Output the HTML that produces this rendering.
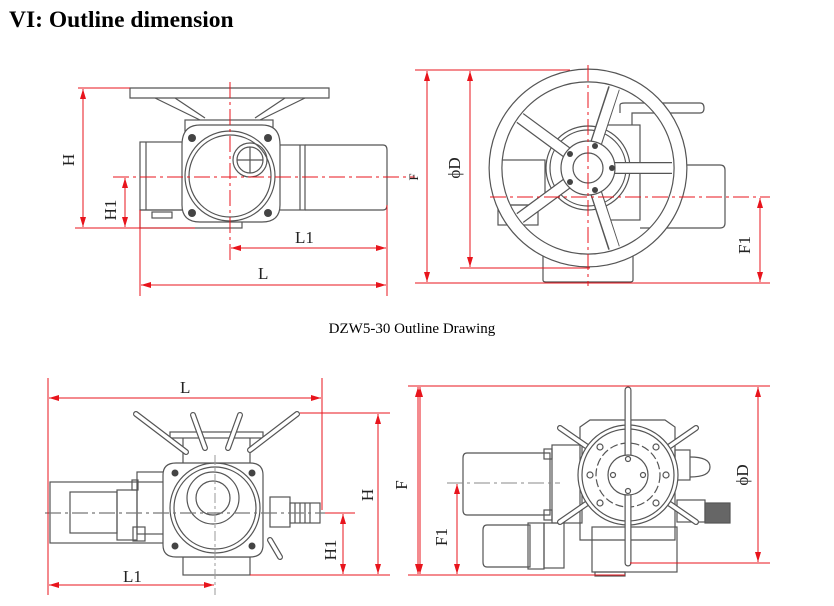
<!DOCTYPE html>
<html><head><meta charset="utf-8">
<style>
html,body{margin:0;padding:0;background:#fff;}
body{width:834px;height:606px;overflow:hidden;position:relative;}
svg{position:absolute;left:0;top:0;}
</style></head>
<body>
<svg width="834" height="606" viewBox="0 0 834 606" xmlns="http://www.w3.org/2000/svg">
<defs>
<marker id="a" viewBox="0 0 10 6" refX="10" refY="3" markerWidth="10" markerHeight="6" markerUnits="userSpaceOnUse" orient="auto-start-reverse">
<path d="M0,0 L10,3 L0,6 z" fill="#e8141c"/></marker>
</defs>
<text x="9" y="27" font-family="Liberation Serif, serif" font-weight="bold" font-size="23.5">VI: Outline dimension</text>
<text x="412" y="333" text-anchor="middle" font-family="Liberation Serif, serif" font-size="15">DZW5-30 Outline Drawing</text>

<!-- ========== TOP LEFT ========== -->
<g fill="none" stroke="#555" stroke-width="1.2">
<path d="M130,88 H329 V98 H130 Z" fill="#fff"/>
<path d="M155,98 L200,120 M175,98 L205,118 M305,98 L260,120 M285,98 L255,118"/>
<rect x="185" y="120" width="88" height="90"/>
<rect x="140" y="142" width="45" height="68"/>
<line x1="146" y1="142" x2="146" y2="210"/>
<rect x="273" y="145" width="32" height="65"/>
<line x1="300" y1="145" x2="300" y2="210"/>
<path d="M305,145 H383 Q387,145 387,150 V205 Q387,210 383,210 H305"/>
<rect x="140" y="210" width="102" height="18"/>
<rect x="152" y="212" width="20" height="6"/>
<path d="M182,145 Q182,125 200,125 H262 Q280,125 280,145 V205 Q280,222 262,222 H200 Q182,222 182,205 Z" fill="#fff"/>
<circle cx="230" cy="176" r="45"/>
<circle cx="230" cy="176" r="41"/>
<circle cx="250" cy="160" r="17"/>
<circle cx="250" cy="160" r="13"/>
<line x1="250" y1="147" x2="250" y2="173"/><line x1="237" y1="160" x2="263" y2="160"/>
</g>
<g fill="#444"><circle cx="192" cy="138" r="4"/><circle cx="268" cy="138" r="4"/><circle cx="192" cy="213" r="4"/><circle cx="268" cy="213" r="4"/></g>
<g stroke="#e8141c" stroke-width="1" fill="none">
<line x1="113" y1="177" x2="415" y2="177" stroke-dasharray="16,4,3,4"/>
<line x1="230" y1="82" x2="230" y2="262" stroke-dasharray="16,4,3,4"/>
<line x1="78" y1="88" x2="130" y2="88"/>
<line x1="75" y1="228" x2="195" y2="228"/>
<line x1="83" y1="89" x2="83" y2="227" marker-start="url(#a)" marker-end="url(#a)"/>
<line x1="125" y1="178" x2="125" y2="227" marker-start="url(#a)" marker-end="url(#a)"/>
<line x1="140" y1="210" x2="140" y2="296"/>
<line x1="387" y1="205" x2="387" y2="296"/>
<line x1="231" y1="248" x2="386" y2="248" marker-start="url(#a)" marker-end="url(#a)"/>
<line x1="141" y1="285" x2="386" y2="285" marker-start="url(#a)" marker-end="url(#a)"/>
</g>
<g font-family="Liberation Serif, serif" font-size="17" fill="#222">
<text transform="translate(74,160) rotate(-90)" text-anchor="middle">H</text>
<text transform="translate(116,210) rotate(-90)" text-anchor="middle">H1</text>
<text x="295" y="243">L1</text>
<text x="258" y="279">L</text>
<text transform="translate(418,177) rotate(-90)" text-anchor="middle" font-size="13">F</text>
</g>

<!-- ========== TOP RIGHT ========== -->
<g fill="none" stroke="#555" stroke-width="1.2">
<path d="M620,113 V105 Q620,103 625,103 H700 Q704,103 704,108 Q704,113 700,113 H632 V125"/>
<rect x="600" y="125" width="40" height="95"/>
<path d="M640,165 H720 Q725,165 725,170 V223 Q725,228 720,228 H640"/>
<rect x="500" y="160" width="45" height="45"/>
<rect x="498" y="205" width="40" height="20"/>
<path d="M543,255 V280 Q543,282 546,282 H630 Q633,282 633,280 V255"/>
<circle cx="588" cy="168" r="42"/>
<circle cx="588" cy="168" r="38"/>
</g>
<g stroke-linecap="butt">
<g stroke="#555" stroke-width="12">
<line x1="588" y1="168" x2="614" y2="88"/><line x1="588" y1="168" x2="672" y2="168"/><line x1="588" y1="168" x2="614" y2="248"/><line x1="588" y1="168" x2="520" y2="218"/><line x1="588" y1="168" x2="520" y2="118"/>
</g>
<g stroke="#fff" stroke-width="9.6">
<line x1="588" y1="168" x2="616" y2="83"/><line x1="588" y1="168" x2="677" y2="168"/><line x1="588" y1="168" x2="616" y2="253"/><line x1="588" y1="168" x2="516" y2="221"/><line x1="588" y1="168" x2="516" y2="115"/>
</g>
</g>
<circle cx="588" cy="168" r="92.5" fill="none" stroke="#555" stroke-width="14"/>
<circle cx="588" cy="168" r="92.5" fill="none" stroke="#fff" stroke-width="11.6"/>
<circle cx="588" cy="168" r="27" fill="#fff" stroke="#555" stroke-width="1.2"/>
<circle cx="588" cy="168" r="15" fill="#fff" stroke="#555" stroke-width="1.2"/>
<g fill="#444"><circle cx="595" cy="146" r="3"/><circle cx="612" cy="168" r="3"/><circle cx="595" cy="190" r="3"/><circle cx="570" cy="154" r="3"/><circle cx="570" cy="182" r="3"/></g>
<g stroke="#e8141c" stroke-width="1" fill="none">
<line x1="415" y1="70" x2="570" y2="70"/>
<line x1="415" y1="283" x2="770" y2="283"/>
<line x1="460" y1="268" x2="590" y2="268"/>
<line x1="490" y1="197" x2="770" y2="197" stroke-dasharray="16,4,3,4"/>
<line x1="588" y1="65" x2="588" y2="286" stroke-dasharray="16,4,3,4"/>
<line x1="427" y1="71" x2="427" y2="282" marker-start="url(#a)" marker-end="url(#a)"/>
<line x1="470" y1="71" x2="470" y2="267" marker-start="url(#a)" marker-end="url(#a)"/>
<line x1="760" y1="198" x2="760" y2="282" marker-start="url(#a)" marker-end="url(#a)"/>
</g>
<g font-family="Liberation Serif, serif" font-size="17" fill="#222">
<text transform="translate(460,168) rotate(-90)" text-anchor="middle">ϕD</text>
<text transform="translate(750,245) rotate(-90)" text-anchor="middle">F1</text>
</g>

<!-- ========== BOTTOM LEFT ========== -->
<g fill="none" stroke="#555" stroke-width="1.2">
<rect x="170" y="432" width="93" height="6"/>
<path d="M183,438 V463 M250,438 V463"/>
<rect x="50" y="482" width="117" height="61"/>
<rect x="70" y="492" width="47" height="41"/>
<rect x="117" y="490" width="20" height="50"/>
<rect x="137" y="472" width="30" height="62"/>
<rect x="132" y="480" width="6" height="10"/>
<rect x="133" y="527" width="12" height="14"/>
<rect x="270" y="497" width="20" height="30"/>
<rect x="290" y="503" width="30" height="20"/>
<line x1="295" y1="503" x2="295" y2="523"/><line x1="300" y1="503" x2="300" y2="523"/><line x1="305" y1="503" x2="305" y2="523"/><line x1="310" y1="503" x2="310" y2="523"/>
<rect x="183" y="557" width="67" height="18"/>
<path d="M163,475 Q163,463 176,463 H250 Q263,463 263,475 V545 Q263,557 250,557 H176 Q163,557 163,545 Z" fill="#fff"/>
<circle cx="215" cy="508" r="45"/>
<circle cx="215" cy="508" r="41"/>
<circle cx="213" cy="498" r="26"/>
<circle cx="213" cy="498" r="17"/>
</g>
<g stroke="#555" stroke-width="6" stroke-linecap="round">
<line x1="136" y1="414" x2="186" y2="452"/><line x1="193" y1="415" x2="205" y2="448"/><line x1="240" y1="415" x2="228" y2="448"/><line x1="297" y1="414" x2="250" y2="450"/><line x1="270" y1="540" x2="280" y2="557"/>
</g>
<g stroke="#fff" stroke-width="3.6" stroke-linecap="round">
<line x1="136" y1="414" x2="186" y2="452"/><line x1="193" y1="415" x2="205" y2="448"/><line x1="240" y1="415" x2="228" y2="448"/><line x1="297" y1="414" x2="250" y2="450"/><line x1="270" y1="540" x2="280" y2="557"/>
</g>
<g fill="#444"><circle cx="175" cy="473" r="3.5"/><circle cx="252" cy="473" r="3.5"/><circle cx="175" cy="546" r="3.5"/><circle cx="252" cy="546" r="3.5"/></g>
<line x1="45" y1="513" x2="325" y2="513" stroke="#777" stroke-width="1.2" stroke-dasharray="16,4,3,4"/>
<g stroke="#e8141c" stroke-width="1" fill="none">
<line x1="325" y1="513" x2="355" y2="513"/>
<line x1="215" y1="455" x2="215" y2="595" stroke="#999" stroke-dasharray="10,3,3,3"/>
<line x1="48" y1="378" x2="48" y2="595"/>
<line x1="322" y1="378" x2="322" y2="510"/>
<line x1="300" y1="413" x2="390" y2="413"/>
<line x1="250" y1="575" x2="390" y2="575"/>
<line x1="49" y1="398" x2="321" y2="398" marker-start="url(#a)" marker-end="url(#a)"/>
<line x1="49" y1="585" x2="214" y2="585" marker-start="url(#a)" marker-end="url(#a)"/>
<line x1="378" y1="414" x2="378" y2="574" marker-start="url(#a)" marker-end="url(#a)"/>
<line x1="343" y1="514" x2="343" y2="574" marker-start="url(#a)" marker-end="url(#a)"/>
<line x1="418" y1="387" x2="418" y2="574" marker-start="url(#a)" marker-end="url(#a)"/>
</g>
<g font-family="Liberation Serif, serif" font-size="17" fill="#222">
<text x="180" y="393">L</text>
<text x="123" y="582">L1</text>
<text transform="translate(373,495) rotate(-90)" text-anchor="middle">H</text>
<text transform="translate(336,550) rotate(-90)" text-anchor="middle">H1</text>
<text transform="translate(407,485) rotate(-90)" text-anchor="middle">F</text>
</g>

<!-- ========== BOTTOM RIGHT ========== -->
<g fill="none" stroke="#555" stroke-width="1.2">
<path d="M467,453 H550 V515 H467 Q463,515 463,510 V458 Q463,453 467,453 Z"/>
<rect x="544" y="449" width="8" height="10"/><rect x="544" y="510" width="8" height="10"/>
<rect x="552" y="445" width="30" height="78"/>
<path d="M487,525 H530 V567 H487 Q483,567 483,562 V530 Q483,525 487,525 Z"/>
<rect x="528" y="523" width="16" height="46"/>
<rect x="544" y="523" width="20" height="45"/>
<path d="M580,427 L590,420 H665 L675,427 V540 H580 Z"/>
<rect x="592" y="527" width="85" height="45"/>
<rect x="595" y="572" width="30" height="4"/>
<rect x="675" y="450" width="15" height="30"/>
<path d="M690,457 Q710,457 710,467 Q710,477 690,477"/>
<rect x="677" y="500" width="28" height="22"/>
<rect x="705" y="503" width="25" height="20" fill="#666"/>
</g>
<g stroke="#555" stroke-width="6" stroke-linecap="round">
<line x1="560" y1="428" x2="696" y2="522"/><line x1="696" y1="428" x2="560" y2="522"/>
</g>
<g stroke="#fff" stroke-width="3.6" stroke-linecap="round">
<line x1="560" y1="428" x2="696" y2="522"/><line x1="696" y1="428" x2="560" y2="522"/>
</g>
<circle cx="628" cy="475" r="50" fill="#fff" stroke="#555" stroke-width="1.2"/>
<circle cx="628" cy="475" r="46" fill="none" stroke="#555" stroke-width="1.2"/>
<circle cx="628" cy="475" r="32" fill="none" stroke="#555" stroke-width="1.2" stroke-dasharray="8,3"/>
<g fill="none" stroke="#555" stroke-width="1.2">
<circle cx="600" cy="447" r="3"/><circle cx="656" cy="447" r="3"/><circle cx="600" cy="503" r="3"/><circle cx="656" cy="503" r="3"/><circle cx="590" cy="475" r="3"/><circle cx="666" cy="475" r="3"/>
</g>
<g stroke="#555" stroke-width="7" stroke-linecap="round"><line x1="628" y1="390" x2="628" y2="563"/></g>
<g stroke="#fff" stroke-width="4.6" stroke-linecap="round"><line x1="628" y1="390" x2="628" y2="563"/></g>
<circle cx="628" cy="475" r="20" fill="#fff" stroke="#555" stroke-width="1.2"/>
<g fill="none" stroke="#555" stroke-width="1.2"><circle cx="628" cy="459" r="2.5"/><circle cx="628" cy="491" r="2.5"/><circle cx="613" cy="475" r="2.5"/><circle cx="643" cy="475" r="2.5"/></g>
<g stroke="#e8141c" stroke-width="1" fill="none">
<line x1="408" y1="386" x2="770" y2="386"/>
<line x1="630" y1="563" x2="770" y2="563"/>
<line x1="408" y1="575" x2="625" y2="575"/>
<line x1="447" y1="483" x2="560" y2="483" stroke="#888" stroke-dasharray="16,4,3,4"/>
<line x1="420" y1="387" x2="420" y2="574" marker-start="url(#a)" marker-end="url(#a)"/>
<line x1="758" y1="387" x2="758" y2="562" marker-start="url(#a)" marker-end="url(#a)"/>
<line x1="457" y1="484" x2="457" y2="574" marker-start="url(#a)" marker-end="url(#a)"/>
</g>
<g font-family="Liberation Serif, serif" font-size="17" fill="#222">
<text transform="translate(447,537) rotate(-90)" text-anchor="middle">F1</text>
<text transform="translate(748,475) rotate(-90)" text-anchor="middle">ϕD</text>
</g>
</svg>
</body></html>
